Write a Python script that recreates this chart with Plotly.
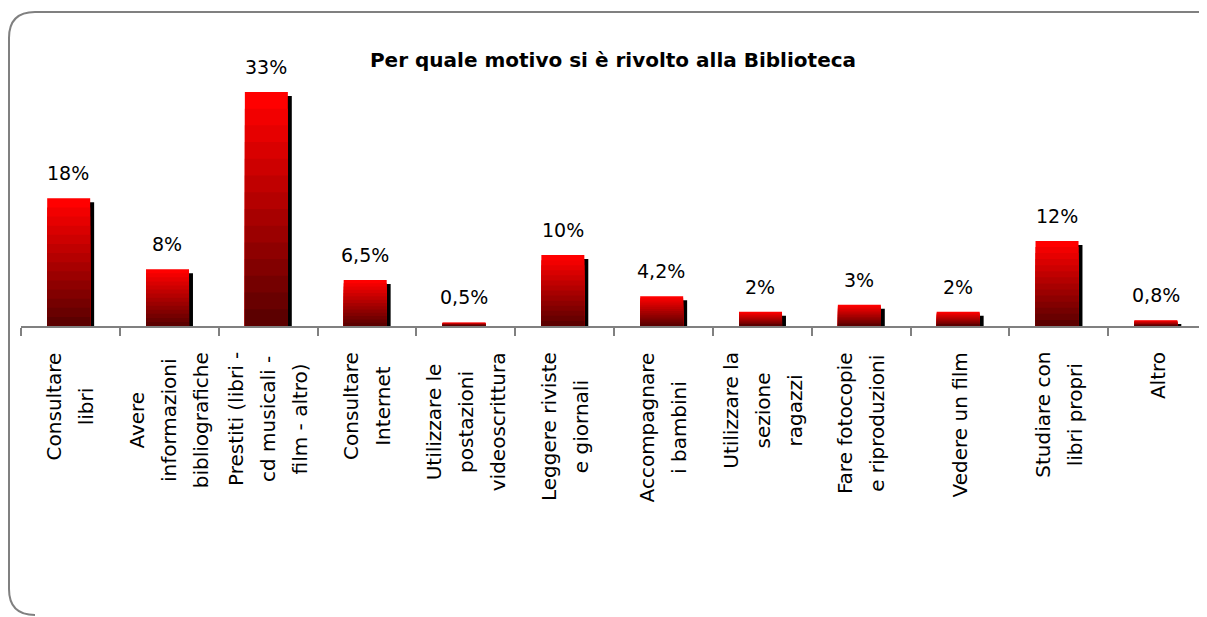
import plotly.graph_objects as go

# dati
categorie = [
    ["Consultare", "libri"],
    ["Avere", "informazioni", "bibliografiche"],
    ["Prestiti (libri -", "cd musicali -", "film - altro)"],
    ["Consultare", "Internet"],
    ["Utilizzare le", "postazioni", "videoscrittura"],
    ["Leggere riviste", "e giornali"],
    ["Accompagnare", "i bambini"],
    ["Utilizzare la", "sezione", "ragazzi"],
    ["Fare fotocopie", "e riproduzioni"],
    ["Vedere un film"],
    ["Studiare con", "libri propri"],
    ["Altro"],
]
percentuali = [18, 8, 33, 6.5, 0.5, 10, 4.2, 2, 3, 2, 12, 0.8]
etichette = ["18%", "8%", "33%", "6,5%", "0,5%", "10%", "4,2%", "2%", "3%", "2%", "12%", "0,8%"]
titolo = "Per quale motivo si è rivolto alla Biblioteca"

# la pagina ha un margine di 8px: la figura parte da (8, 8)
OFF = 8
W, H = 1207 - OFF, 617 - OFF
M_L, M_T, M_B = 21 - OFF, 60 - OFF, 291
Y_MAX = 37.5
PX_PER_UNIT = (H - M_T - M_B) / Y_MAX
FONT = "DejaVu Sans"

chiavi = ["<br>".join(c) for c in categorie]

fig = go.Figure()

# ombra nera
ombra = [max(v - 4 / PX_PER_UNIT, 0) for v in percentuali]
fig.add_trace(go.Bar(x=chiavi, y=ombra, width=0.435, offset=-0.195,
                     marker=dict(color="black", line=dict(width=0)),
                     hoverinfo="skip", showlegend=False))

# sfumatura rossa (strati sovrapposti)
N = 14
for k in range(N, 0, -1):
    f = k / N
    r = int(80 + (255 - 80) * f)
    fig.add_trace(go.Bar(x=chiavi, y=[v * f for v in percentuali], width=0.435, offset=-0.235,
                         marker=dict(color="rgb({},0,0)".format(r), line=dict(width=0)),
                         hoverinfo="skip", showlegend=False))

# etichette valori
for c, v, t in zip(chiavi, percentuali, etichette):
    fig.add_annotation(x=c, y=v, text=t, showarrow=False, yanchor="bottom",
                       yshift=12, xshift=-2, font=dict(family=FONT, size=19, color="black"))

# etichette categorie (ruotate, interlinea larga)
fs = 20
extra = 32 - 1.3 * fs
for c, righe in zip(chiavi, categorie):
    n = len(righe)
    for i in range(n):
        parti = [r if j == i else "<span style='color:rgba(0,0,0,0)'>{}</span>".format(r)
                 for j, r in enumerate(righe)]
        fig.add_annotation(x=c, y=0, yref="paper", text="<br>".join(parti), showarrow=False,
                           textangle=-90, yanchor="top", yshift=-24,
                           xshift=(i - (n - 1) / 2) * extra,
                           font=dict(family=FONT, size=fs, color="black"))

# cornice arrotondata
pw, ph = W - M_L, H - M_T - M_B
def px_x(p):
    return (p - OFF - M_L) / pw
def px_y(p):
    return (H - M_B - (p - OFF)) / ph
L, T, R, B, rad = 9, 12, 1207, 615, 26
path = "M {},{} L {},{} Q {},{} {},{} L {},{} Q {},{} {},{}".format(
    px_x(R), px_y(T), px_x(L + rad), px_y(T), px_x(L), px_y(T), px_x(L), px_y(T + rad),
    px_x(L), px_y(B - rad), px_x(L), px_y(B), px_x(L + rad), px_y(B))
fig.add_shape(type="path", path=path, xref="paper", yref="paper",
              line=dict(color="#808080", width=2))

fig.update_layout(
    width=W, height=H,
    margin=dict(l=M_L, r=0, t=M_T, b=M_B),
    barmode="overlay",
    paper_bgcolor="white", plot_bgcolor="white",
    title=dict(text=titolo, x=(613 - OFF) / W, xanchor="center", y=1 - (60 - OFF) / H,
               yanchor="middle", yref="container",
               font=dict(family=FONT, size=20, color="black", weight="bold")),
    xaxis=dict(type="category", range=[-0.5, 11.5], showline=True, linecolor="#808080",
               linewidth=2, ticks="outside", tickson="boundaries", ticklen=8, tickwidth=2,
               tickcolor="#808080", showticklabels=False, showgrid=False, zeroline=False),
    yaxis=dict(range=[0, Y_MAX], visible=False),
    showlegend=False,
)

fig.write_html("out.html")
